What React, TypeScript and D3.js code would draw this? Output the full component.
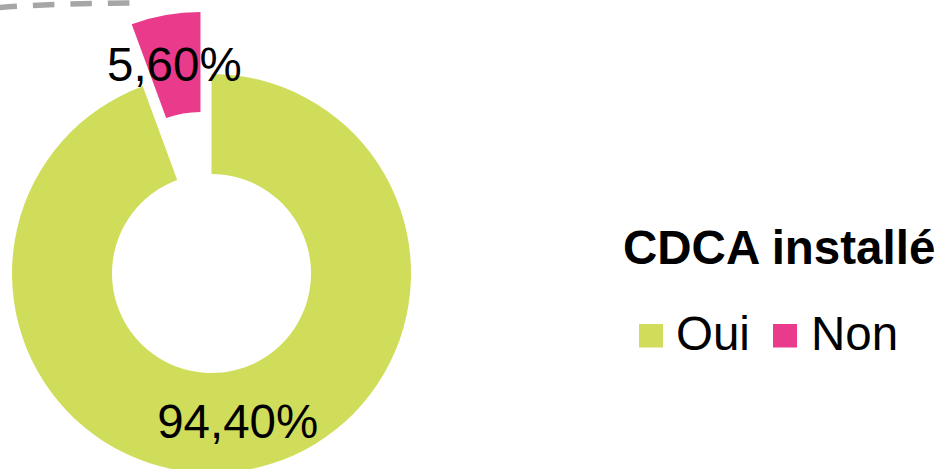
import React from "react";
import * as d3 from "d3";

const categories = ["Oui", "Non"];
const values = [94.4, 5.6];
const colors = ["#cfdd5a", "#ea3a8b"];
const explode = [0, 63];
const legendTitle = "CDCA installé";

const W = 940;
const H = 469;
const cx = 211.5;
const cy = 273.5;
const outerR = 199.5;
const innerR = 99.5;
const font = "'Liberation Sans', Arial, sans-serif";
const fs = 47.5;

export default function App() {
  const pie = d3.pie<number>().sort(null).value((d) => d)(values);
  const arc = d3.arc<d3.PieArcDatum<number>>().innerRadius(innerR).outerRadius(outerR);
  const fmt = (v: number) => v.toFixed(2).replace(".", ",") + "%";

  const legendX = [639, 773];
  const textX = [676, 811];

  return (
    <svg
      width={W}
      height={H}
      style={{ position: "absolute", left: 0, top: 0, display: "block", background: "#fff" }}
    >
      <path
        d="M -4.5 7.7 Q 62 3.2 129.5 3.0"
        fill="none"
        stroke="#a6a6a6"
        strokeWidth={5.5}
        strokeDasharray="21.5 16"
      />
      <g transform={`translate(${cx},${cy})`}>
        {pie.map((p, i) => {
          const mid = (p.startAngle + p.endAngle) / 2;
          const dx = Math.sin(mid) * explode[i];
          const dy = -Math.cos(mid) * explode[i];
          return (
            <path key={i} d={arc(p) || ""} fill={colors[i]} transform={`translate(${dx},${dy})`} />
          );
        })}
        {pie.map((p, i) => {
          const mid = (p.startAngle + p.endAngle) / 2;
          const dx = Math.sin(mid) * explode[i];
          const dy = -Math.cos(mid) * explode[i];
          const [x, y] = arc.centroid(p);
          return (
            <text
              key={"l" + i}
              x={x + dx}
              y={y + dy + 17}
              textAnchor="middle"
              fontFamily={font}
              fontSize={fs}
              fill="#000"
            >
              {fmt(values[i])}
            </text>
          );
        })}
      </g>
      <text x={623} y={264} fontFamily={font} fontSize={fs} fontWeight="bold" fill="#000">
        {legendTitle}
      </text>
      {categories.map((c, i) => (
        <g key={c}>
          <rect x={legendX[i]} y={324} width={24} height={23.5} fill={colors[i]} />
          <text x={textX[i]} y={350} fontFamily={font} fontSize={fs} fill="#000">
            {c}
          </text>
        </g>
      ))}
    </svg>
  );
}
